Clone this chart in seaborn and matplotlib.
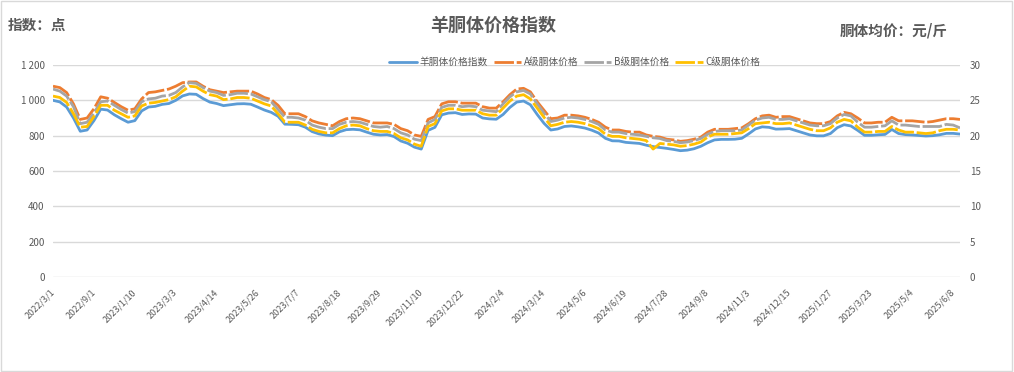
import numpy as np
import pandas as pd
import matplotlib
matplotlib.use("Agg")
import matplotlib.pyplot as plt
import matplotlib.transforms as mtransforms
from matplotlib.patches import Rectangle
import seaborn as sns

# Tick labels on the category axis (one label every 6 weekly points)
date_labels = ['2022/3/1', '2022/9/1', '2023/1/10', '2023/3/3', '2023/4/14', '2023/5/26',
               '2023/7/7', '2023/8/18', '2023/9/29', '2023/11/10', '2023/12/22', '2024/2/4',
               '2024/3/14', '2024/5/6', '2024/6/19', '2024/7/28', '2024/9/8', '2024/11/3',
               '2024/12/15', '2025/1/27', '2025/3/23', '2025/5/4', '2025/6/8']

# Lamb carcass price index (points)
index_vals = [1000, 991, 962, 900, 825, 832, 885, 950, 945, 918, 896, 876, 885, 940, 962, 966, 977, 982, 1000, 1025,
              1036, 1034, 1010, 990, 982, 970, 975, 980, 981, 978, 962, 945, 932, 910, 865, 864, 862, 848, 823, 810,
              803, 800, 822, 834, 836, 833, 820, 808, 804, 806, 795, 770, 757, 735, 724, 830, 847, 918, 928, 930,
              920, 923, 922, 900, 895, 893, 920, 960, 990, 996, 975, 920, 870, 832, 838, 852, 855, 850, 843, 831,
              815, 785, 771, 770, 762, 759, 756, 746, 738, 733, 728, 722, 715, 718, 726, 740, 760, 776, 779, 779,
              780, 785, 810, 838, 850, 847, 837, 838, 840, 828, 816, 804, 799, 799, 812, 845, 862, 855, 830, 802,
              802, 805, 807, 835, 812, 806, 804, 801, 798, 800, 805, 813, 813, 809]

# Grade A carcass price (yuan/jin)
grade_a = [27.0, 26.8, 26.1, 24.5, 22.3, 22.5, 23.8, 25.5, 25.3, 24.7, 24.1, 23.6, 23.8, 25.2, 26.1, 26.2, 26.4, 26.6, 27.0, 27.5,
           27.6, 27.6, 27.0, 26.5, 26.3, 26.1, 26.2, 26.3, 26.3, 26.3, 25.9, 25.4, 25.1, 24.3, 23.1, 23.1, 23.1, 22.7, 22.1, 21.8,
           21.6, 21.4, 22.0, 22.4, 22.5, 22.4, 22.1, 21.8, 21.8, 21.8, 21.6, 21.0, 20.7, 20.1, 19.9, 22.3, 22.7, 24.5, 24.8, 24.8,
           24.6, 24.6, 24.6, 24.1, 23.9, 23.9, 24.8, 25.8, 26.6, 26.7, 26.2, 24.8, 23.6, 22.4, 22.5, 22.9, 22.9, 22.8, 22.6, 22.3,
           21.9, 21.2, 20.8, 20.8, 20.6, 20.5, 20.5, 20.1, 19.9, 19.8, 19.5, 19.4, 19.2, 19.3, 19.5, 19.8, 20.5, 20.9, 20.9, 20.9,
           21.0, 21.1, 21.7, 22.4, 22.8, 22.9, 22.6, 22.7, 22.7, 22.4, 22.1, 21.8, 21.7, 21.7, 22.0, 22.8, 23.3, 23.1, 22.5, 21.8,
           21.8, 21.9, 21.9, 22.6, 22.1, 22.1, 22.1, 22.0, 21.9, 22.0, 22.2, 22.4, 22.4, 22.3]

# Grade B carcass price (yuan/jin)
grade_b = [26.6, 26.3, 25.6, 24.1, 21.7, 21.9, 23.2, 24.8, 24.9, 24.3, 23.7, 23.2, 23.4, 24.8, 25.2, 25.3, 25.6, 25.7, 26.1, 26.9,
           27.5, 27.4, 26.8, 26.3, 26.1, 25.7, 25.8, 26.0, 26.0, 25.9, 25.5, 25.1, 24.8, 23.7, 22.6, 22.6, 22.5, 22.2, 21.5, 21.2,
           21.0, 21.0, 21.6, 21.9, 22.0, 21.9, 21.6, 21.3, 21.2, 21.3, 21.0, 20.4, 20.1, 19.5, 19.3, 21.8, 22.3, 24.0, 24.3, 24.3,
           24.1, 24.2, 24.1, 23.6, 23.5, 23.4, 24.5, 25.5, 26.2, 26.4, 25.9, 24.5, 23.2, 22.0, 22.2, 22.5, 22.6, 22.5, 22.3, 22.0,
           21.6, 20.8, 20.5, 20.5, 20.3, 20.2, 20.1, 19.9, 19.7, 19.6, 19.3, 19.2, 19.0, 19.1, 19.3, 19.6, 20.2, 20.6, 20.7, 20.7,
           20.7, 20.8, 21.5, 22.2, 22.5, 22.6, 22.3, 22.3, 22.4, 22.1, 21.8, 21.5, 21.4, 21.4, 21.7, 22.5, 23.0, 22.8, 21.9, 21.2,
           21.2, 21.3, 21.4, 22.1, 21.5, 21.5, 21.4, 21.3, 21.3, 21.3, 21.3, 21.6, 21.5, 21.1]

# Grade C carcass price (yuan/jin)
grade_c = [25.6, 25.4, 24.7, 23.1, 21.2, 21.3, 22.7, 24.3, 24.3, 23.6, 23.1, 22.6, 22.8, 24.2, 24.6, 24.7, 24.9, 25.1, 25.5, 26.3,
           27.0, 26.9, 26.3, 25.8, 25.6, 25.1, 25.2, 25.4, 25.4, 25.3, 24.9, 24.5, 24.2, 23.1, 21.9, 21.9, 21.9, 21.5, 20.9, 20.6,
           20.4, 20.4, 21.0, 21.4, 21.5, 21.4, 21.0, 20.7, 20.6, 20.6, 20.3, 19.7, 19.4, 18.8, 18.5, 21.3, 21.7, 23.5, 23.8, 23.8,
           23.6, 23.6, 23.6, 23.1, 22.9, 22.9, 23.9, 24.9, 25.6, 25.8, 25.2, 23.9, 22.6, 21.4, 21.6, 21.9, 22.0, 21.9, 21.7, 21.4,
           21.0, 20.2, 19.9, 19.9, 19.7, 19.6, 19.5, 19.3, 18.1, 18.9, 18.8, 18.7, 18.5, 18.6, 18.8, 19.1, 19.8, 20.2, 20.2, 20.2,
           20.3, 20.4, 21.0, 21.7, 21.8, 21.9, 21.7, 21.7, 21.8, 21.5, 21.2, 20.9, 20.7, 20.7, 21.1, 21.9, 22.3, 22.1, 21.2, 20.5,
           20.5, 20.6, 20.6, 21.3, 20.8, 20.5, 20.5, 20.4, 20.3, 20.4, 20.7, 20.9, 20.9, 20.8]

positions = np.arange(len(index_vals))
df = pd.DataFrame({'pos': positions, 'index': index_vals,
                   'A': grade_a, 'B': grade_b, 'C': grade_c})

sns.set_theme(style='white')
plt.rcParams['font.family'] = ['Noto Sans CJK SC', 'DejaVu Sans']
text_color = '#595959'

fig = plt.figure(figsize=(10.14, 3.72), dpi=100)
ax = fig.add_axes([53 / 1014, 1 - 277 / 372, (960 - 53) / 1014, (277 - 65) / 372])
ax2 = ax.twinx()

lw = 2.0
dash = (0, (7, 1.0))
sns.lineplot(data=df, x='pos', y='index', ax=ax, color='#5B9BD5', linewidth=lw, label='羊胴体价格指数', legend=False)
sns.lineplot(data=df, x='pos', y='A', ax=ax2, color='#ED7D31', linewidth=lw, linestyle=dash, label='A级胴体价格', legend=False)
sns.lineplot(data=df, x='pos', y='B', ax=ax2, color='#A5A5A5', linewidth=lw, linestyle=dash, label='B级胴体价格', legend=False)
sns.lineplot(data=df, x='pos', y='C', ax=ax2, color='#FFC000', linewidth=lw, linestyle=dash, label='C级胴体价格', legend=False)

# Axes limits and ticks
ax.set_xlim(0, len(index_vals) - 1)
ax.set_ylim(0, 1200)
ax2.set_ylim(0, 30)
ax.set_yticks(range(0, 1201, 200))
ax.set_yticklabels(['0', '200', '400', '600', '800', '1 000', '1 200'])
ax2.set_yticks(range(0, 31, 5))
ax.set_xticks(range(0, len(index_vals), 6))
ax.set_xticklabels(date_labels, rotation=45, ha='right', va='center', rotation_mode='anchor')
for lab in ax.get_xticklabels():
    lab.set_transform(lab.get_transform() + mtransforms.ScaledTranslation(8 / 100, -3 / 100, fig.dpi_scale_trans))

ax.set_xlabel('')
ax.set_ylabel('')
ax2.set_ylabel('')
ax.tick_params(axis='x', length=0, pad=10, labelsize=6.5, colors=text_color)
ax.tick_params(axis='y', length=0, pad=6, labelsize=7, colors=text_color)
ax2.tick_params(axis='y', length=0, pad=7, labelsize=7, colors=text_color)

ax.yaxis.grid(True, color='#d9d9d9', linewidth=1)
ax.xaxis.grid(False)
ax2.grid(False)
for a in (ax, ax2):
    for s in a.spines.values():
        s.set_visible(False)
ax.patch.set_visible(False)

# Legend
h1, l1 = ax.get_legend_handles_labels()
h2, l2 = ax2.get_legend_handles_labels()
fig.legend(h1 + h2, l1 + l2, loc='center', bbox_to_anchor=(0.567, 1 - 62 / 372), ncol=4,
           frameon=False, fontsize=7, handlelength=2.8, handletextpad=0.3, columnspacing=0.6,
           labelcolor=text_color)

# Titles
fig.text(493 / 1014, 1 - 25 / 372, '羊胴体价格指数', ha='center', va='center', fontsize=13,
         fontweight='bold', color=text_color)
fig.text(8 / 1014, 1 - 25 / 372, '指数：点', ha='left', va='center', fontsize=10.5,
         fontweight='bold', color=text_color)
fig.text(948 / 1014, 1 - 31 / 372, '胴体均价：元/斤', ha='right', va='center', fontsize=10.5,
         fontweight='bold', color=text_color)

# Chart border
fig.patches.append(Rectangle((0.001, 0.002), 0.997, 0.995, transform=fig.transFigure,
                             fill=False, edgecolor='#d9d9d9', linewidth=1))

fig.savefig('out.png', dpi=100)
